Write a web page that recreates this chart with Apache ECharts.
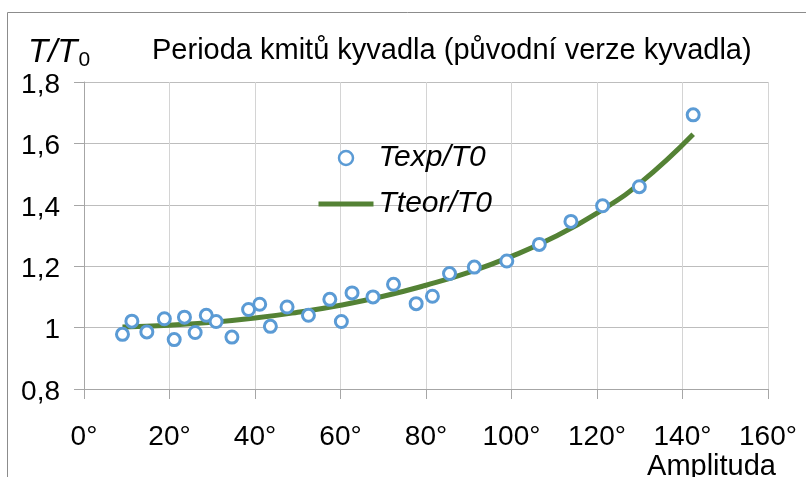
<!DOCTYPE html>
<html>
<head>
<meta charset="utf-8">
<script src="https://cdn.jsdelivr.net/npm/echarts@6/dist/echarts.min.js"></script>
<style>
  html, body { margin: 0; padding: 0; background: #fff; }
</style>
</head>
<body>
<div id="myChart" style="width:806px;height:477px"></div>
<script>
var expDeg = [9.0, 11.2, 14.7, 18.8, 21.1, 23.5, 26.0, 28.6, 30.9, 34.6, 38.5, 41.1, 43.6, 47.5, 52.5,
  57.5, 60.2, 62.7, 67.6, 72.4, 77.7, 81.5, 85.5, 91.3, 98.9, 106.5, 113.9, 121.3, 129.9, 142.5]
var expVal = [0.978, 1.021, 0.986, 1.029, 0.961, 1.034, 0.984, 1.040, 1.020, 0.969, 1.059, 1.076, 1.004, 1.067, 1.040,
  1.092, 1.020, 1.113, 1.100, 1.141, 1.078, 1.102, 1.176, 1.197, 1.217, 1.271, 1.346, 1.397, 1.459, 1.693]

// green curve
var teorDeg = [9, 20, 30, 40, 50, 60, 70, 80, 90, 100, 110, 120, 130, 142.5]
var teorVal = [1.002, 1.008, 1.017, 1.031, 1.050, 1.073, 1.102, 1.138, 1.180, 1.232, 1.295, 1.373, 1.470, 1.630]

var xLabels = ['0°', '20°', '40°', '60°', '80°', '100°', '120°', '140°', '160°']
var yLabels = ['0,8', '1', '1,2', '1,4', '1,6', '1,8']

var font = 'Liberation Sans'

var myChart = echarts.init(document.getElementById('myChart'))

var options = {
  animation: false,
  graphic: [{
    type: 'rect',
    shape: { x: 7.5, y: 12.5, width: 900, height: 600 },
    style: { fill: 'none', stroke: '#8c8c8c', lineWidth: 1 },
    silent: true
  }],
  title: [{
    text: '{i|T/T}{s|0}',
    left: 23,
    top: 30,
    textStyle: {
      rich: {
        i: { fontFamily: font, fontStyle: 'italic', fontWeight: 'normal', fontSize: 33, color: '#000' },
        s: { fontFamily: font, fontWeight: 'normal', fontSize: 21, color: '#000', padding: [15, 0, 0, 1] }
      }
    }
  }, {
    text: 'Perioda kmitů kyvadla (původní verze kyvadla)',
    left: 147,
    top: 31,
    textStyle: { fontFamily: font, fontWeight: 'normal', fontSize: 29, color: '#000' }
  }, {
    text: 'Amplituda',
    right: 25,
    top: 447,
    textStyle: { fontFamily: font, fontWeight: 'normal', fontSize: 29, color: '#000' }
  }],
  legend: {
    orient: 'vertical',
    left: 316,
    top: 143,
    padding: 0,
    itemWidth: 55,
    itemHeight: 14,
    itemGap: 16,
    textStyle: { fontFamily: font, fontStyle: 'italic', fontSize: 30, color: '#000' },
    data: [
      { name: 'Texp/T0', itemStyle: { borderWidth: 2.5 } },
      { name: 'Tteor/T0', itemStyle: { opacity: 0 }, lineStyle: { width: 5, color: '#548235' } }
    ]
  },
  grid: { left: 84, right: 38, top: 82, bottom: 88 },
  xAxis: {
    type: 'value',
    min: 0,
    max: 160,
    interval: 20,
    axisLine: { lineStyle: { color: '#a6a6a6', width: 1 } },
    axisTick: { show: true, length: 10, lineStyle: { color: '#a6a6a6' } },
    splitLine: { show: true, lineStyle: { color: '#d4d4d4', width: 1 } },
    axisLabel: {
      fontFamily: font, fontSize: 28, color: '#000', margin: 34,
      formatter: function (v) { return xLabels[Math.round(v / 20)] }
    }
  },
  yAxis: {
    type: 'value',
    min: 0.8,
    max: 1.8,
    interval: 0.2,
    axisLine: { show: true, lineStyle: { color: '#a6a6a6', width: 1 } },
    axisTick: { show: true, length: 10, lineStyle: { color: '#a6a6a6' } },
    splitLine: { show: true, lineStyle: { color: '#bdbdbd', width: 1 } },
    axisLabel: {
      fontFamily: font, fontSize: 28, color: '#000', margin: 24,
      verticalAlign: 'top',
      padding: [-11, 0, 0, 0],
      formatter: function (v) { return yLabels[Math.round((v - 0.8) / 0.2)] }
    }
  },
  series: [{
    name: 'Tteor/T0',
    type: 'line',
    smooth: true,
    showSymbol: false,
    symbol: 'none',
    data: teorDeg.map(function (d, i) { return [d, teorVal[i]] }),
    lineStyle: { color: '#548235', width: 5 },
    itemStyle: { color: '#548235' },
    z: 2
  }, {
    name: 'Texp/T0',
    type: 'scatter',
    symbol: 'circle',
    symbolSize: 12,
    data: expDeg.map(function (d, i) { return [d, expVal[i]] }),
    itemStyle: { color: '#fff', borderColor: '#5b9bd5', borderWidth: 3, opacity: 1 },
    z: 3
  }]
}

myChart.setOption(options)
</script>
</body>
</html>
